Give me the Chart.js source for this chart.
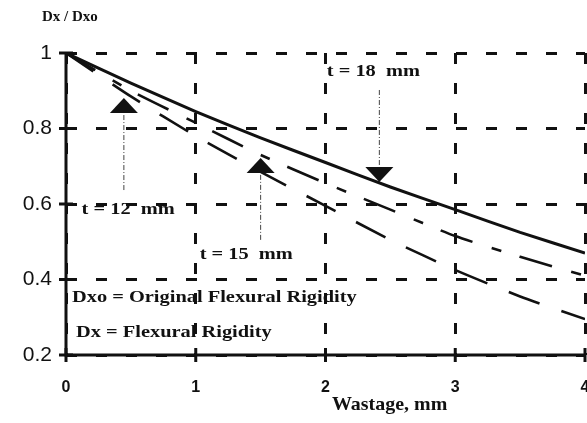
<!DOCTYPE html>
<html>
<head>
<meta charset="utf-8">
<script src="https://cdn.jsdelivr.net/npm/chart.js@4/dist/chart.umd.min.js"></script>
<style>
  html, body { margin: 0; padding: 0; background: #fff; }
  #wrap { width: 587px; height: 423px; }
</style>
</head>
<body>
<div id="wrap"><canvas id="rigidityChart" width="587" height="423"></canvas></div>
<script>
// wastage (mm) and Dx/Dxo
const wastage = [0, 0.5, 1, 1.5, 2, 2.5, 3, 3.5, 4];
const t18 = [1, 0.92, 0.845, 0.775, 0.71, 0.645, 0.585, 0.525, 0.47];
const t15 = [1, 0.90, 0.815, 0.73, 0.655, 0.585, 0.515, 0.46, 0.41];
const t12 = [1, 0.885, 0.78, 0.685, 0.595, 0.505, 0.425, 0.355, 0.295];
const yTicks = [0.2, 0.4, 0.6, 0.8, 1];
const xTicks = [0, 1, 2, 3, 4];

// callouts, in data units: label position, arrow x, arrow from -> tip
const callouts = [
  { text: "t = 18  mm", lx: 2.01, ly: 0.95, ax: 2.415, from: 0.902, tip: 0.658, dir: "down" },
  { text: "t = 12  mm", lx: 0.12, ly: 0.584, ax: 0.446, from: 0.637, tip: 0.881, dir: "up" },
  { text: "t = 15  mm", lx: 1.03, ly: 0.465, ax: 1.5, from: 0.505, tip: 0.722, dir: "up" }
];
const notes = [
  { text: "Dxo = Original Flexural Rigidity", x: 0.046, y: 0.351 },
  { text: "Dx = Flexural Rigidity", x: 0.077, y: 0.258 }
];

const ink = "#111";
const serif = "'Liberation Serif', 'DejaVu Serif', serif";

function toPoints(ys) {
  return wastage.map((x, i) => ({ x: x, y: ys[i] }));
}

function wideText(ctx, text, x, y, font, stretch) {
  ctx.save();
  ctx.font = font;
  ctx.translate(x, y);
  ctx.scale(stretch, 1);
  ctx.fillText(text, 0, 0);
  ctx.restore();
}

const decorations = {
  id: "decorations",
  afterDraw(chart) {
    const ctx = chart.ctx;
    const xs = chart.scales.x;
    const ys = chart.scales.y;
    const area = chart.chartArea;

    ctx.save();
    ctx.fillStyle = ink;
    ctx.strokeStyle = ink;

    // solid axes with little crosses at each tick
    ctx.lineWidth = 3;
    ctx.setLineDash([]);
    ctx.beginPath();
    ctx.moveTo(area.left, area.top);
    ctx.lineTo(area.left, area.bottom);
    ctx.lineTo(area.right, area.bottom);
    ctx.stroke();
    yTicks.forEach(v => {
      const py = ys.getPixelForValue(v);
      ctx.beginPath();
      ctx.moveTo(area.left - 7, py);
      ctx.lineTo(area.left + 7, py);
      ctx.stroke();
    });
    xTicks.forEach(v => {
      const px = xs.getPixelForValue(v);
      ctx.beginPath();
      ctx.moveTo(px, area.bottom - 7);
      ctx.lineTo(px, area.bottom + 7);
      ctx.stroke();
    });

    // callout labels and arrows
    ctx.textBaseline = "middle";
    ctx.textAlign = "left";
    callouts.forEach(c => {
      wideText(ctx, c.text, xs.getPixelForValue(c.lx), ys.getPixelForValue(c.ly),
        "bold 17px " + serif, 1.2);
      const px = xs.getPixelForValue(c.ax);
      const pFrom = ys.getPixelForValue(c.from);
      const pTip = ys.getPixelForValue(c.tip);
      const sign = c.dir === "down" ? 1 : -1;
      const pBase = pTip - sign * 15;
      ctx.lineWidth = 1;
      ctx.strokeStyle = "#444";
      ctx.setLineDash([5, 2, 1, 2]);
      ctx.beginPath();
      ctx.moveTo(px, pFrom);
      ctx.lineTo(px, pBase);
      ctx.stroke();
      ctx.setLineDash([]);
      ctx.beginPath();
      ctx.moveTo(px - 14, pBase);
      ctx.lineTo(px + 14, pBase);
      ctx.lineTo(px, pTip);
      ctx.closePath();
      ctx.fill();
    });

    notes.forEach(n => {
      wideText(ctx, n.text, xs.getPixelForValue(n.x), ys.getPixelForValue(n.y),
        "bold 17px " + serif, 1.2);
    });

    // axis titles
    wideText(ctx, "Dx / Dxo", 42, 17, "bold 15px " + serif, 1.0);
    wideText(ctx, "Wastage, mm", 332, 405, "bold 19px " + serif, 1.05);
    ctx.restore();
  }
};

const ctx = document.getElementById("rigidityChart").getContext("2d");

new Chart(ctx, {
  type: "line",
  data: {
    datasets: [
      {
        label: "t = 18 mm",
        data: toPoints(t18),
        borderColor: ink,
        borderWidth: 3,
        pointRadius: 0,
        tension: 0.2
      },
      {
        label: "t = 15 mm",
        data: toPoints(t15),
        borderColor: ink,
        borderWidth: 2.6,
        borderDash: [34, 20, 10, 19],
        pointRadius: 0,
        tension: 0.2
      },
      {
        label: "t = 12 mm",
        data: toPoints(t12),
        borderColor: ink,
        borderWidth: 2.6,
        borderDash: [33, 23],
        pointRadius: 0,
        tension: 0.2
      }
    ]
  },
  options: {
    responsive: false,
    animation: false,
    layout: { padding: { top: 53, right: 2, left: 0, bottom: 0 } },
    plugins: {
      legend: { display: false },
      tooltip: { enabled: false }
    },
    scales: {
      x: {
        type: "linear",
        min: 0,
        max: 4,
        afterFit(scale) {
          scale.height = 68;
          scale.paddingLeft = 0;
          scale.paddingRight = 0;
        },
        afterBuildTicks(scale) {
          scale.ticks = xTicks.map(v => ({ value: v }));
        },
        ticks: {
          padding: 23,
          color: ink,
          maxRotation: 0,
          callback: v => String(v),
          font: { family: "'Liberation Sans', Arial, sans-serif", size: 16, weight: "bold" }
        },
        grid: { color: ink, lineWidth: 3, drawTicks: false },
        border: { display: false, dash: [11, 19] }
      },
      y: {
        min: 0.2,
        max: 1,
        afterFit(scale) {
          scale.width = 66;
        },
        afterBuildTicks(scale) {
          scale.ticks = yTicks.map(v => ({ value: v }));
        },
        ticks: {
          padding: 14,
          color: ink,
          callback: v => String(v),
          font: { family: "'Liberation Sans', Arial, sans-serif", size: 21 }
        },
        grid: { color: ink, lineWidth: 3, drawTicks: false },
        border: { display: false, dash: [11, 19] }
      }
    }
  },
  plugins: [decorations]
});
</script>
</body>
</html>
